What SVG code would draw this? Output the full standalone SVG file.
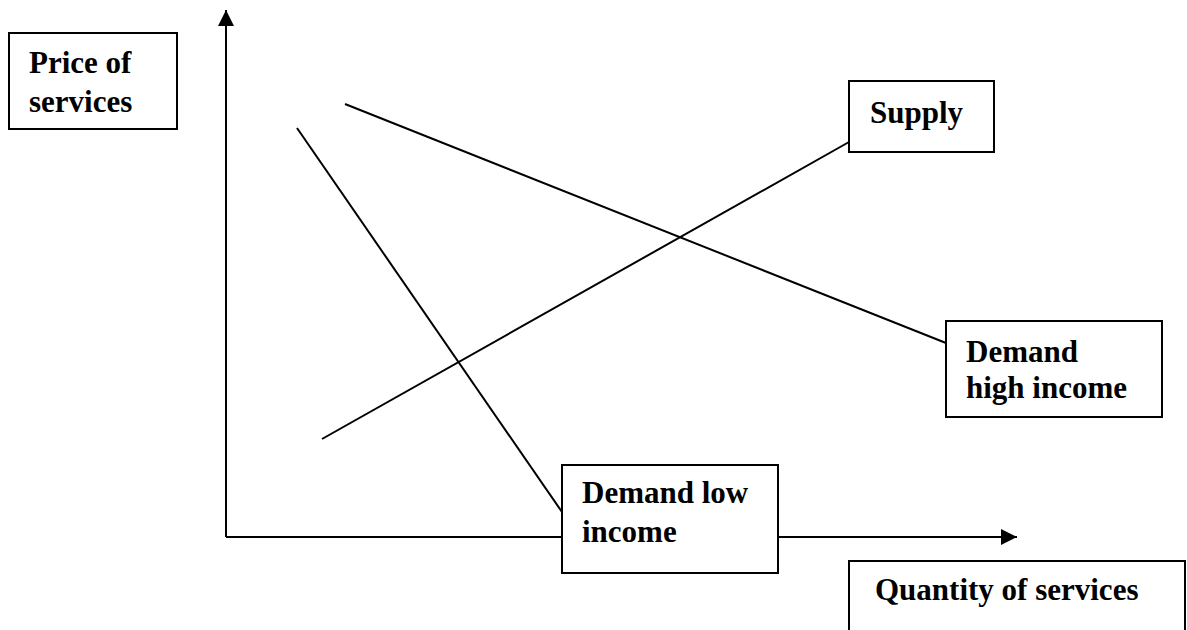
<svg xmlns="http://www.w3.org/2000/svg" width="1187" height="630" viewBox="0 0 1187 630">
<style>
.box{fill:#fff;stroke:#000;stroke-width:2}
.ln{stroke:#000;stroke-width:2;fill:none}
.t{font-family:"Liberation Serif","Times New Roman",serif;font-weight:bold;font-size:31px;fill:#000}
</style>
<defs>
<marker id="ah" markerUnits="userSpaceOnUse" markerWidth="16" markerHeight="16" refX="16" refY="8" orient="auto">
<path d="M0,0 L16,8 L0,16 Z" fill="#000"/>
</marker>
</defs>
<rect width="1187" height="630" fill="#fff"/>
<g id="connectors">
<line class="ln" x1="226" y1="537" x2="226" y2="10" marker-end="url(#ah)"/>
<line class="ln" x1="226" y1="537" x2="1017" y2="537" marker-end="url(#ah)"/>
<line class="ln" x1="322" y1="439" x2="849" y2="142"/>
<line class="ln" x1="345" y1="104" x2="946" y2="343"/>
<line class="ln" x1="297" y1="128" x2="562" y2="512"/>
</g>
<g id="price">
<rect class="box" x="9" y="33" width="168" height="96"/>
<text class="t" x="29" y="73">Price of</text>
<text class="t" x="29" y="112">services</text>
</g>
<g id="supply">
<rect class="box" x="849" y="81" width="145" height="71"/>
<text class="t" x="870" y="123">Supply</text>
</g>
<g id="demand-high">
<rect class="box" x="946" y="321" width="216" height="96"/>
<text class="t" x="966" y="362">Demand</text>
<text class="t" x="966" y="398">high income</text>
</g>
<g id="demand-low">
<rect class="box" x="562" y="465" width="216" height="108"/>
<text class="t" x="582" y="503">Demand low</text>
<text class="t" x="582" y="542">income</text>
</g>
<g id="quantity">
<rect class="box" x="849" y="561" width="336" height="80"/>
<text class="t" x="875" y="600">Quantity of services</text>
</g>
</svg>
